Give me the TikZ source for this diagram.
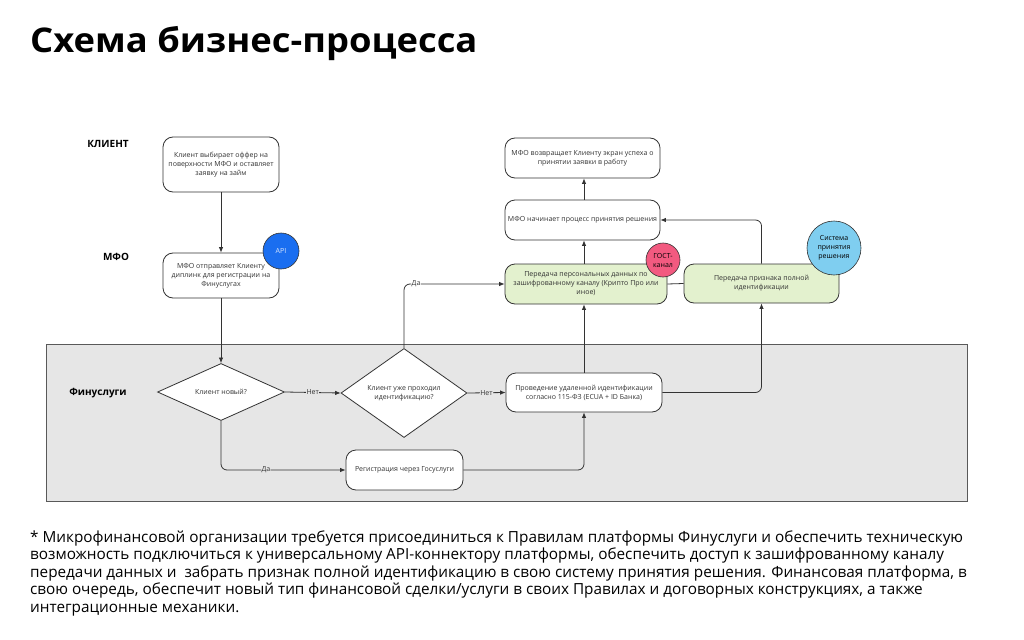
\documentclass[tikz,border=0pt]{standalone}
\usepackage{fontspec}
\setmainfont{Open Sans}
\usetikzlibrary{shapes.geometric,arrows.meta}
\definecolor{lanegray}{HTML}{E6E6E6}
\definecolor{greenfill}{HTML}{E3F1CE}
\definecolor{apiblue}{HTML}{1A6EF0}
\definecolor{gostpink}{HTML}{F25A80}
\definecolor{syscyan}{HTML}{7FCEF0}
\definecolor{edge}{HTML}{333333}
\tikzset{
  box/.style={draw=edge, rounded corners=10pt, fill=white, line width=0.8pt, align=center,
    font=\fontsize{7}{9}\selectfont, inner sep=1pt, text=black!80},
  gbox/.style={box, fill=greenfill},
  dia/.style={draw=edge, diamond, fill=white, line width=0.8pt, align=center, inner sep=0pt,
    font=\fontsize{7}{9}\selectfont, text=black!80},
  circ/.style={circle, draw=edge, line width=0.6pt, align=center, inner sep=0pt,
    font=\fontsize{7}{9}\selectfont},
  conn/.style={draw=edge, line width=0.8pt, -{Latex[length=5.5pt,width=4.5pt]}},
  plain/.style={draw=edge, line width=0.8pt},
  lbl/.style={fill=lanegray, inner sep=0.5pt, font=\fontsize{7}{8}\selectfont, text=black!80},
  lane/.style={font=\bfseries\fontsize{10}{12}\selectfont, anchor=center},
  foot/.style={anchor=base west, font=\fontsize{15.3}{17}\selectfont, inner sep=0pt},
}
\begin{document}
\begin{tikzpicture}[x=1pt,y=-1pt]
\useasboundingbox[fill=white] (0,0) rectangle (1024,639);
% title
\node[anchor=base west, inner sep=0pt, font=\bfseries\fontsize{34}{40}\selectfont] (title) at (30,53) {\scalebox{1.07}[1]{Схема бизнес-процесса}};
% swimlane region
\node[draw=black!65, fill=lanegray, line width=0.8pt, minimum width=921pt, minimum height=157pt, inner sep=0pt] (lanebg) at (506.5,422.5) {};
% lane labels
\node[lane] (lclient) at (108,144) {КЛИЕНТ};
\node[lane] (lmfo) at (116,257) {МФО};
\node[lane] (lfin) at (98,393) {Финуслуги};
% boxes
\node[box, minimum width=116pt, minimum height=55pt] (offer) at (221,164.5) {Клиент выбирает оффер на\\поверхности МФО и оставляет\\заявку на займ};
\node[box, minimum width=116pt, minimum height=45pt] (deeplink) at (221,275.5) {МФО отправляет Клиенту\\диплинк для регистрации на\\Финуслугах};
\node[dia, minimum width=127pt, minimum height=56pt] (isnew) at (221,392) {Клиент новый?};
\node[dia, minimum width=126pt, minimum height=58pt] (wasid) at (404,393) {Клиент уже проходил\\идентификацию?};
\node[box, minimum width=156pt, minimum height=39pt] (ident) at (584,392.5) {Проведение удаленной идентификации\\согласно 115-ФЗ (ECUA + ID Банка)};
\node[box, minimum width=117pt, minimum height=40pt] (gosu) at (404.5,470) {Регистрация через Госуслуги};
\node[gbox, minimum width=162pt, minimum height=40pt] (pers) at (586,284) {Передача персональных данных по\\зашифрованному каналу (Крипто Про или\\иное)};
\node[gbox, minimum width=155pt, minimum height=39pt] (flag) at (761.5,283.5) {Передача признака полной\\идентификации};
\node[box, minimum width=155pt, minimum height=40pt] (start) at (582.5,220) {МФО начинает процесс принятия решения};
\node[box, minimum width=155pt, minimum height=40pt] (ret) at (582.5,158) {МФО возвращает Клиенту экран успеха о\\принятии заявки в работу};
% connectors
\draw[conn] (offer.south) -- (deeplink.north);
\draw[conn] (deeplink.south) -- (isnew.north);
\draw[conn] (isnew.east) -- node[lbl]{Нет} (wasid.west);
\draw[conn] (wasid.east) -- node[lbl]{Нет} (ident.west);
\draw[conn, rounded corners=6pt] (isnew.south) |- node[lbl, pos=0.68]{Да} (gosu.west);
\draw[conn, rounded corners=6pt] (gosu.east) -| (ident.south);
\draw[conn, rounded corners=6pt] (wasid.north) |- node[lbl, fill=white, pos=0.56]{Да} (pers.west);
\draw[conn] (ident.north) -- (ident.north |- pers.south);
\draw[conn] (ident.north |- pers.north) -- (ident.north |- start.south);
\draw[conn] (ident.north |- start.north) -- (ident.north |- ret.south);
\draw[conn, rounded corners=6pt] (ident.east) -| (flag.south);
\draw[plain] (pers.east) -- (flag.west);
\draw[conn, rounded corners=6pt] (flag.north) |- (start.east);
% circles
\node[circ, fill=apiblue, minimum size=36pt, text=white!85!apiblue] (api) at (281,251) {API};
\node[circ, fill=gostpink, minimum size=34pt] (gost) at (663,260) {ГОСТ-\\канал};
\node[circ, fill=syscyan, minimum size=54pt] (sys) at (834,248) {Система\\принятия\\решения};
% footnote
\node[foot] (f1) at (30,542) {* Микрофинансовой организации требуется присоединиться к Правилам платформы Финуслуги и обеспечить техническую};
\node[foot] (f2) at (30,559.5) {возможность подключиться к универсальному API-коннектору платформы, обеспечить доступ к зашифрованному каналу};
\node[foot] (f3) at (30,577) {передачи данных и\ \ забрать признак полной идентификацию в свою систему принятия решения. Финансовая платформа, в};
\node[foot] (f4) at (30,594.5) {свою очередь, обеспечит новый тип финансовой сделки/услуги в своих Правилах и договорных конструкциях, а также};
\node[foot] (f5) at (30,612) {интеграционные механики.};
\end{tikzpicture}
\end{document}
